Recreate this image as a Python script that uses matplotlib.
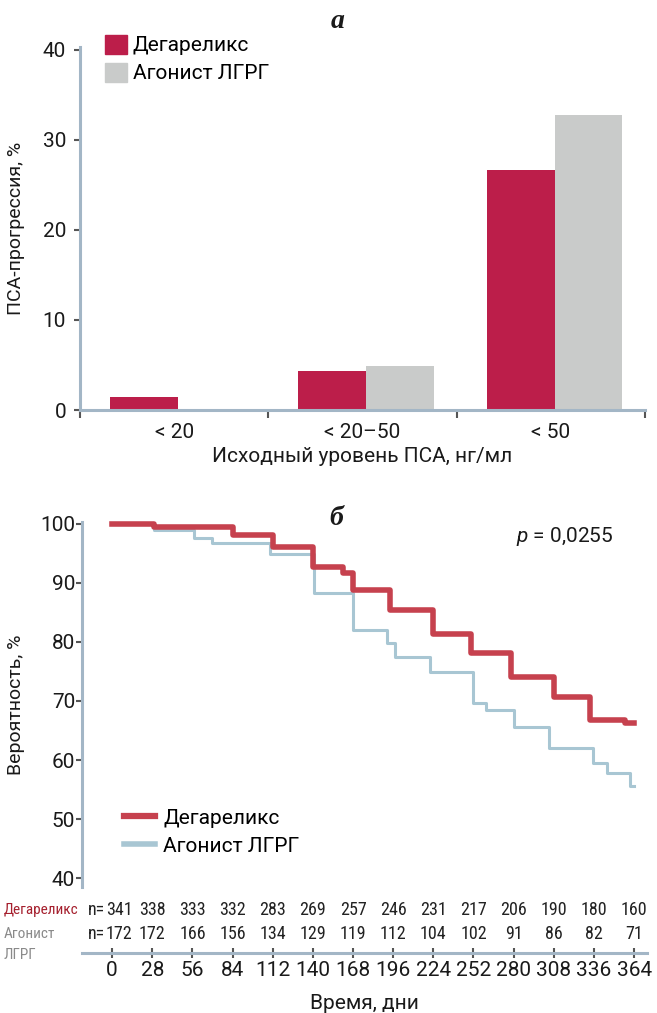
import numpy as np
import matplotlib
matplotlib.use('Agg')
import matplotlib.pyplot as plt
import matplotlib.transforms as mtransforms
from matplotlib import font_manager as fm
from matplotlib.patches import Patch
from matplotlib.lines import Line2D

# ---------------- data ----------------
psa_categories = ['< 20', '< 20–50', '< 50']
degarelix_progression = [1.4, 4.3, 26.6]
agonist_progression = [0.0, 4.9, 32.8]

red_times = [0, 29, 84, 112, 140, 161, 168, 194, 224, 250, 278, 308, 333, 358]
red_values = [100, 99.4, 98.1, 96.0, 92.6, 91.7, 88.8, 85.4, 81.4, 78.1, 74.1, 70.7, 66.8, 66.2]
blue_times = [0, 29, 57, 70, 110, 141, 168, 192, 197, 222, 252, 261, 280, 305, 335, 345, 361]
blue_values = [100, 99.0, 97.6, 96.8, 94.8, 88.3, 82.0, 79.8, 77.5, 74.9, 69.7, 68.5, 65.6, 62.0, 59.5, 57.8, 55.6]
end_time = 364

table_days = [0, 28, 56, 84, 112, 140, 168, 196, 224, 252, 280, 308, 336, 364]
degarelix_n = [341, 338, 333, 332, 283, 269, 257, 246, 231, 217, 206, 190, 180, 160]
agonist_n = [172, 172, 166, 156, 134, 129, 119, 112, 104, 102, 91, 86, 82, 71]

label_deg = 'Дегареликс'
label_ago = 'Агонист ЛГРГ'

# ---------------- fonts ----------------
avail = {f.name for f in fm.fontManager.ttflist}
def pick(c):
    for n in c:
        if n in avail:
            return n
    return 'DejaVu Sans'
MAIN = pick(['Roboto', 'Open Sans', 'Noto Sans', 'DejaVu Sans'])
SERIF = pick(['Liberation Serif', 'DejaVu Serif'])

def find_cond():
    for fam in ['Liberation Sans Narrow', 'Roboto Condensed', 'Open Sans Condensed',
                'Noto Sans', 'Open Sans', 'DejaVu Sans', 'Roboto']:
        if fam not in avail:
            continue
        fp = fm.FontProperties(family=fam, stretch='condensed')
        try:
            path = fm.findfont(fp, fallback_to_default=False)
        except Exception:
            continue
        if 'Narrow' in path or 'Cond' in path:
            return fam, 'condensed'
    return MAIN, 'normal'
COND_FAM, COND_STRETCH = find_cond()
def cond(size):
    return fm.FontProperties(family=COND_FAM, stretch=COND_STRETCH, size=size)

plt.rcParams['font.family'] = [MAIN, 'DejaVu Sans']
plt.rcParams['mathtext.fontset'] = 'custom'
plt.rcParams['mathtext.it'] = MAIN + ':italic'
plt.rcParams['mathtext.rm'] = MAIN

RED_BAR = '#bc1e4a'
GRAY_BAR = '#c9cbca'
RED_LINE = '#c6414e'
BLUE_LINE = '#a8c6d3'
SPINE = '#a3b6c6'
TICK = '#555555'
TXT = '#1a1a1a'

W, H = 657, 1013
fig = plt.figure(figsize=(W / 100, H / 100), dpi=100)

# ---------------- panel a ----------------
ax1 = fig.add_axes([80 / W, 1 - 410 / H, 565 / W, (410 - 47) / H])
idx = np.arange(len(psa_categories))
bw = 0.36
ax1.bar(idx - bw / 2 + 0.02, degarelix_progression, bw, color=RED_BAR, label=label_deg)
ax1.bar(idx + bw / 2 + 0.02, agonist_progression, bw, color=GRAY_BAR, label=label_ago)
ax1.set_xlim(-0.5, len(psa_categories) - 0.5)
ax1.set_ylim(0, 40.3)
for s in ['top', 'right']:
    ax1.spines[s].set_visible(False)
for s in ['left', 'bottom']:
    ax1.spines[s].set_color(SPINE)
    ax1.spines[s].set_linewidth(2.2)
ax1.set_yticks([0, 10, 20, 30, 40])
ax1.tick_params(axis='y', direction='out', length=4, width=1.5, color=TICK,
                labelsize=15, labelcolor=TXT, pad=6)
ax1.set_xticks(idx)
ax1.set_xticklabels(psa_categories)
ax1.tick_params(axis='x', which='major', length=0, labelsize=15, labelcolor=TXT, pad=9)
ax1.set_xticks(np.arange(-0.5, len(psa_categories)), minor=True)
ax1.tick_params(axis='x', which='minor', direction='out', length=6, width=1.5, color=TICK)
ax1.set_ylabel('ПСА-прогрессия, %', fontsize=14, color=TXT)
ax1.yaxis.set_label_coords(-0.097, 0.5)
ax1.set_xlabel('Исходный уровень ПСА, нг/мл', fontsize=15, color=TXT)
ax1.xaxis.set_label_coords(0.5, -0.102)
ax1.legend(handles=[Patch(color=RED_BAR), Patch(color=GRAY_BAR)],
           labels=[label_deg, label_ago], loc='upper left',
           bbox_to_anchor=(0.044, 1.034), frameon=False, fontsize=15,
           handlelength=1.05, handleheight=1.05, handletextpad=0.3,
           labelspacing=0.35, borderpad=0, borderaxespad=0)
fig.text(338 / W, 1 - 22 / H, 'а', family=SERIF, style='italic', weight='bold',
         fontsize=20, ha='center', va='center', color=TXT)

# ---------------- panel b ----------------
ax2 = fig.add_axes([82 / W, 1 - 887 / H, 565 / W, (887 - 522) / H])
ax2.step(red_times + [end_time], red_values + [red_values[-1]], where='post',
         color=RED_LINE, lw=4, clip_on=False, solid_joinstyle='round', zorder=3)
ax2.step(blue_times + [end_time], blue_values + [blue_values[-1]], where='post',
         color=BLUE_LINE, lw=2.2, clip_on=False, zorder=2)
ax2.set_xlim(-21, 373)
ax2.set_ylim(38.5, 100.3)
for s in ['top', 'right', 'bottom']:
    ax2.spines[s].set_visible(False)
ax2.spines['left'].set_color(SPINE)
ax2.spines['left'].set_linewidth(2.2)
ax2.set_xticks([])
ax2.set_yticks([40, 50, 60, 70, 80, 90, 100])
ax2.tick_params(axis='y', direction='out', length=4, width=1.5, color=TICK,
                labelsize=15, labelcolor=TXT, pad=1)
ax2.set_ylabel('Вероятность, %', fontsize=14, color=TXT)
ax2.yaxis.set_label_coords(-0.1, 0.5)
ax2.text(0.855, 0.959, r'$p$ = 0,0255', transform=ax2.transAxes, fontsize=15,
         ha='center', va='center', color=TXT)
ax2.legend(handles=[Line2D([], [], color=RED_LINE, lw=4.5),
                    Line2D([], [], color=BLUE_LINE, lw=4)],
           labels=[label_deg, label_ago], loc='upper left',
           bbox_to_anchor=(0.074, 0.215), frameon=False, fontsize=15,
           handlelength=1.5, handletextpad=0.4, labelspacing=0.44,
           borderpad=0, borderaxespad=0)
fig.text(336 / W, 1 - 518 / H, 'б', family=SERIF, style='italic', weight='bold',
         fontsize=20, ha='center', va='center', color=TXT)

# risk table
blend = mtransforms.blended_transform_factory(ax2.transData, fig.transFigure)
row_y = [1 - 910 / H, 1 - 934 / H]
for ry, nums in [(row_y[0], degarelix_n), (row_y[1], agonist_n)]:
    first = None
    for k, (d, n) in enumerate(zip(table_days, nums)):
        t = ax2.annotate(str(n), xy=(d, ry), xycoords=blend,
                         xytext=(5 if k == 0 else 0, 0), textcoords='offset points',
                         ha='center', va='center',
                         fontproperties=cond(13), color='#222222')
        if first is None:
            first = t
    ax2.annotate('n=', xy=(0, 0.5), xycoords=first, xytext=(-0.5, 0),
                 textcoords='offset points', ha='right', va='center',
                 fontproperties=cond(13), color='#222222')
fig.text(4 / W, row_y[0], 'Дегареликс', fontproperties=cond(11), color='#a51f2d',
         ha='left', va='center')
fig.text(4 / W, row_y[1], 'Агонист', fontproperties=cond(11), color='#8a8a8a',
         ha='left', va='center')
fig.text(4 / W, 1 - 955 / H, 'ЛГРГ', fontproperties=cond(11), color='#8a8a8a',
         ha='left', va='center')

# time axis
ax3 = fig.add_axes([82 / W, 1 - 953 / H, 565 / W, 0.0005])
ax3.set_xlim(-21, 373)
for s in ['top', 'right', 'left']:
    ax3.spines[s].set_visible(False)
ax3.spines['bottom'].set_color(SPINE)
ax3.spines['bottom'].set_linewidth(2.2)
ax3.set_yticks([])
ax3.set_xticks(table_days)
ax3.tick_params(axis='x', direction='inout', length=7, width=1.5, color=TICK,
                labelsize=15, labelcolor=TXT, pad=2)
ax3.set_xlabel('Время, дни', fontsize=15, color=TXT, labelpad=10)
ax3.patch.set_visible(False)

fig.savefig('out.png', dpi=100)
